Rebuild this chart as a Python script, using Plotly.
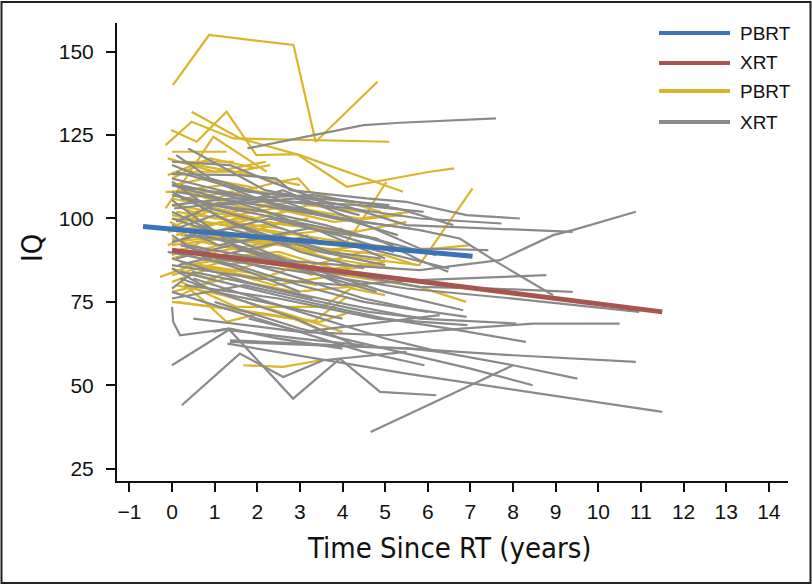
import plotly.graph_objects as go

# ---------------- data ----------------
# Individual PBRT patient trajectories (time since RT in years, IQ)
pbrt_times = [
    [0.02, 0.87, 2.85, 3.37, 4.82],
    [-0.15, 0.46, 1.44, 5.1],
    [0.46, 1.6, 3.0, 5.42],
    [-0.02, 0.58, 1.28, 1.98, 2.93, 4.1, 6.05, 6.62],
    [0.0, 1.4, 2.9, 3.9, 4.33, 5.03],
    [-0.15, 0.97, 2.22],
    [0.0, 1.28],
    [0.03, 1.45],
    [-0.1, 0.9, 2.0],
    [0.2, 2.5, 4.5, 5.8, 7.05],
    [0.0, 2.0, 4.0, 5.8, 7.0],
    [0.3, 2.5, 4.5, 5.8, 6.9],
    [1.67, 2.6, 3.5],
    [0.0, 1.36, 3.47, 4.2],
    [0.1, 1.2, 2.8, 4.0],
    [-0.28, 0.5, 1.5],
    [0.0, 1.2, 2.5],
    [0.0, 0.8, 2.2, 3.6],
    [0.1, 1.0, 2.0, 3.2, 4.5],
    [-0.1, 1.2, 2.6, 4.0],
    [0.0, 1.5, 3.0],
    [0.2, 1.0, 2.5, 3.8, 5.0],
    [0.0, 1.1, 2.3],
    [0.0, 0.9, 2.1, 3.5],
    [0.1, 1.3, 2.7, 4.3, 5.5],
    [0.0, 1.6, 3.2],
    [0.3, 1.4, 2.9, 4.1],
    [-0.05, 0.7, 1.9, 3.1],
    [0.0, 1.0, 2.4, 3.7, 5.2],
    [0.2, 1.7, 3.4],
    [0.0, 1.3, 2.9, 4.6],
    [0.0, 0.8, 2.0],
    [1.0, 2.5, 2.96, 3.24, 4.9],
    [0.0, 1.0, 2.4, 3.8, 5.4],
    [0.1, 1.2, 2.6],
    [0.0, 0.7, 1.8, 3.2],
    [-0.1, 0.8, 2.0, 3.3, 4.6],
    [0.0, 1.5, 3.0, 4.5],
    [0.2, 1.1, 2.5],
    [0.0, 1.4, 2.8, 4.0],
    [0.3, 1.9, 3.3],
    [0.0, 0.9, 2.1, 3.0, 4.3],
    [0.0, 1.2, 2.7, 4.3],
    [0.1, 1.5, 3.4],
    [0.0, 1.3, 2.5, 3.6, 4.8],
    [0.2, 1.5, 3.53, 4.2, 5.0],
    [0.11, 2.84, 3.94],
    [0.3, 0.73, 1.28, 2.06, 3.31, 4.1],
    [-0.15, 1.43],
    [0.4, 1.5, 2.3],
    [0.0, 1.8, 3.6, 5.0, 5.74],
    [0.1, 1.6, 3.0, 4.4, 5.58],
    [0.0, 0.6, 1.9, 3.0],
    [-0.1, 1.0, 2.2],
    [0.2, 1.3, 2.4, 3.9],
]
pbrt_iq = [
    [140, 155, 152, 123, 141],
    [122, 129, 124, 123],
    [132, 124, 119, 108],
    [126.5, 123, 132, 119, 119.3, 109.5, 114, 115],
    [97, 94, 92, 90, 97, 111],
    [103, 124.5, 114],
    [120, 120],
    [117, 117],
    [113, 118, 115],
    [95, 92, 88, 86, 109],
    [100, 97, 93, 90.5, 92],
    [90, 86, 82, 79.5, 75],
    [56, 55.5, 57.5],
    [75, 73, 69, 72],
    [80, 77, 71, 66],
    [82.5, 86, 84],
    [108, 110, 107],
    [111, 106, 104, 101],
    [98, 103, 100, 104, 102],
    [96, 99, 95, 97],
    [93, 95, 91],
    [91, 88, 90, 85, 87],
    [88, 92, 89],
    [85, 82, 87, 84],
    [104, 101, 98, 96, 99],
    [101, 97, 100],
    [106, 108, 102, 100],
    [99, 94, 96, 92],
    [94, 90, 93, 88, 85],
    [87, 84, 80],
    [78, 82, 78, 80],
    [110, 112, 109],
    [106, 111, 112, 108, 102],
    [104, 100, 103, 99, 101],
    [96, 99, 97],
    [89, 93, 90, 95],
    [92, 97, 94, 90, 92],
    [83, 88, 85, 90],
    [100, 105, 101],
    [106, 102, 105, 103],
    [86, 89, 83],
    [81, 85, 82, 86, 83],
    [98, 94, 99, 95],
    [95, 100, 97],
    [90, 86, 89, 84, 86],
    [81, 73.5, 73.5, 79, 77],
    [75, 70, 64],
    [80, 75.5, 69, 71.5, 69, 76.5],
    [108, 108],
    [114, 114, 116],
    [92, 95, 91, 89, 86],
    [102, 99, 103, 100, 102],
    [112, 116, 113, 110],
    [118, 114, 117],
    [77, 84, 80, 83],
]

# Individual XRT patient trajectories
xrt_times = [
    [1.77, 4.49, 5.35, 7.6],
    [0.1, 2.0, 4.0, 5.81, 7.69, 8.94, 9.4, 10.88],
    [0.0, 2.0, 4.2, 5.81, 7.73],
    [0.0, 1.59, 2.45, 2.77, 4.56, 5.49, 6.91, 8.16],
    [0.38, 2.18, 4.0, 5.5, 9.4],
    [0.0, 1.36, 2.22, 3.8],
    [0.0, 2.06, 4.0, 5.3],
    [0.0, 1.5, 3.0, 4.5],
    [0.0, 1.55, 3.2, 4.8],
    [0.05, 1.83, 2.6, 4.2, 5.81, 7.42],
    [0.1, 2.0, 4.0, 5.81, 6.75, 7.61, 8.94],
    [0.2, 2.5, 4.8, 5.81, 6.48],
    [0.0, 2.0, 4.0, 5.81, 8.78],
    [0.3, 3.0, 5.81, 7.5, 9.4],
    [1.0, 3.5, 5.5, 8.0, 10.96],
    [0.5, 3.0, 5.0, 6.8, 8.47, 10.5],
    [0.0, 2.0, 4.2, 5.81, 8.08],
    [0.2, 2.8, 5.0, 6.5, 8.3],
    [1.36, 3.5, 5.58, 8.0, 10.88],
    [0.5, 3.0, 5.0, 6.28, 8.0, 9.51],
    [1.0, 3.0, 5.0, 7.0, 8.46],
    [4.66, 8.0],
    [0.97, 1.32, 2.84, 3.94, 4.88, 6.2],
    [1.3, 5.5, 11.5],
    [0.0, 2.5, 4.5, 5.92],
    [0.3, 2.5, 4.8, 6.93],
    [0.5, 3.0, 5.0, 6.83],
    [0.23, 1.59, 2.61, 3.55, 5.5],
    [0.0, 1.32, 3.0, 4.5],
    [0.0, 0.03, 0.19, 1.36, 2.5, 4.0],
    [1.36, 5.58, 6.28],
    [1.8, 3.07, 6.28],
    [0.2, 2.5, 4.5, 5.81, 6.91],
    [0.0, 1.2, 2.6, 4.0],
    [0.1, 1.0, 2.0, 3.5, 5.0],
    [0.0, 0.8, 1.8, 3.0],
    [-0.1, 1.5, 3.0, 4.5, 6.0],
    [0.0, 1.0, 2.5, 4.0],
    [0.2, 1.5, 2.9, 4.3],
    [0.0, 2.0, 3.5, 5.0],
    [0.1, 1.0, 2.2, 3.6, 5.2],
    [0.0, 1.3, 2.8],
    [0.0, 0.9, 2.1, 3.5],
    [0.0, 1.0, 2.3, 3.9, 5.2],
    [0.0, 1.7, 3.1, 4.6, 6.0],
    [0.1, 1.4, 2.8, 4.1],
    [0.0, 0.5, 2.0, 3.3],
    [0.3, 1.6, 3.2, 4.7, 6.2],
    [0.0, 1.1, 2.9, 4.4],
    [0.15, 1.5, 3.0, 4.6, 6.5],
    [0.0, 1.2, 2.4, 3.8, 5.6],
    [0.1, 0.9, 2.2, 3.3],
    [0.0, 1.4, 2.9, 4.4, 5.9],
    [0.1, 1.8, 3.4, 5.1],
    [0.0, 1.1, 2.5, 3.7, 4.9],
    [0.2, 1.6, 3.3, 5.3, 6.6],
]
xrt_iq = [
    [121, 128, 128.7, 130],
    [90, 88, 86, 84.5, 87.5, 95, 96.5, 102],
    [110, 106, 103, 100, 98.5],
    [113.3, 113, 112, 108.5, 106, 105, 101, 100],
    [121, 108.5, 104, 98, 96],
    [117, 116, 111.5, 104],
    [112, 105.5, 100, 95],
    [108, 98, 90, 85],
    [105.5, 91, 84, 78],
    [103, 105.5, 108.5, 100, 91, 90.5],
    [108, 104, 100, 96.5, 94, 87, 77],
    [106, 100, 94, 87.5, 84],
    [86, 82, 80, 81.5, 83],
    [92, 86, 79.5, 79, 78],
    [88, 83, 79, 76, 72],
    [70, 66, 65, 67, 68.5, 68.5],
    [88, 80, 74, 70, 68.5],
    [84, 76, 70, 67, 63],
    [63, 62, 61, 59, 57],
    [82, 72, 64, 60, 56, 52],
    [75, 67, 61, 55, 50],
    [36, 56],
    [66, 67, 46, 58, 48, 47],
    [62.5, 53.5, 42],
    [78, 68, 60, 56],
    [80, 76, 70, 68],
    [96, 86, 78, 72.5],
    [44, 59.5, 52.5, 57.5, 60],
    [56, 66.5, 64, 62],
    [73.5, 69, 65, 67, 64, 61],
    [63.5, 61, 60],
    [70, 66, 71],
    [92, 84, 76, 72.5, 70.5],
    [100, 95, 88, 80],
    [97, 101, 96, 90, 86],
    [95, 88, 84, 78],
    [90, 86, 80, 75, 72],
    [85, 78, 74, 70],
    [82, 76, 70, 62],
    [110, 103, 96, 88],
    [99, 104, 102, 98, 92],
    [93, 97, 92],
    [111, 103, 99, 93],
    [102, 96, 100, 95, 90],
    [76, 80, 76, 72, 70],
    [88, 92, 86, 83],
    [79, 84, 80, 76],
    [95, 93, 97, 94, 89],
    [107, 104, 106, 101],
    [86, 90, 94, 91, 85],
    [116, 110, 104, 100, 97],
    [119, 112, 107, 102],
    [104, 106, 105, 104, 102],
    [114, 108, 106, 104],
    [98, 92, 95, 90, 88],
    [110, 106, 107, 103, 98],
]

# Group mean fits
fit_pbrt_x = [-0.68, 7.05]
fit_pbrt_y = [97.6, 88.7]
fit_xrt_x = [0.0, 11.5]
fit_xrt_y = [90.5, 72.0]

x_ticks = list(range(-1, 15))
y_ticks = [25, 50, 75, 100, 125, 150]
legend_labels = ["PBRT", "XRT", "PBRT", "XRT"]

# ---------------- colours ----------------
C_YEL = "#D9B52B"
C_GRY = "#8A8A8A"
C_BLU = "#3A74B7"
C_RED = "#A8554F"


def join(series_x, series_y):
    xs, ys = [], []
    for sx, sy in zip(series_x, series_y):
        xs += list(sx) + [None]
        ys += list(sy) + [None]
    return xs, ys


fig = go.Figure()
px_, py_ = join(pbrt_times, pbrt_iq)
xx_, xy_ = join(xrt_times, xrt_iq)
fig.add_trace(go.Scatter(x=px_, y=py_, mode="lines", line=dict(color=C_YEL, width=2.2),
                         name="PBRT", showlegend=False, hoverinfo="skip"))
fig.add_trace(go.Scatter(x=xx_, y=xy_, mode="lines", line=dict(color=C_GRY, width=2.2),
                         name="XRT", showlegend=False, hoverinfo="skip"))
fig.add_trace(go.Scatter(x=fit_pbrt_x, y=fit_pbrt_y, mode="lines",
                         line=dict(color=C_BLU, width=5), name="PBRT", showlegend=False))
fig.add_trace(go.Scatter(x=fit_xrt_x, y=fit_xrt_y, mode="lines",
                         line=dict(color=C_RED, width=5), name="XRT", showlegend=False))

W, H = 812, 585
L, R, T, B = 117, 24, 23, 104
PW, PH = W - L - R, H - T - B


def pxx(px):
    return (px - L) / PW


def pyy(py):
    return (H - B - py) / PH


shapes = [
    dict(type="rect", xref="paper", yref="paper",
         x0=pxx(1.5), x1=pxx(810.5), y0=pyy(583), y1=pyy(2),
         line=dict(color="#222", width=2), layer="below"),
]
annotations = []
leg_colors = [C_BLU, C_RED, C_YEL, C_GRY]
leg_rows = [33, 63, 91, 122]
for lab, col, row in zip(legend_labels, leg_colors, leg_rows):
    shapes.append(dict(type="line", xref="paper", yref="paper",
                       x0=pxx(659), x1=pxx(730), y0=pyy(row), y1=pyy(row),
                       line=dict(color=col, width=4)))
    annotations.append(dict(xref="paper", yref="paper", x=pxx(738), y=pyy(row),
                            xanchor="left", yanchor="middle", text=lab, showarrow=False,
                            font=dict(size=19, color="#111",
                                      family="Liberation Sans, Arial, sans-serif")))

title_font = dict(size=29, color="#111",
                  family="Liberation Sans Narrow, DejaVu Sans Condensed, Arial Narrow, sans-serif")
annotations.append(dict(xref="paper", yref="paper", x=pxx(449), y=pyy(548),
                        xanchor="center", yanchor="middle", text="Time Since RT (years)",
                        showarrow=False, font=title_font))
annotations.append(dict(xref="paper", yref="paper", x=pxx(32), y=pyy(248),
                        xanchor="center", yanchor="middle", text="IQ", textangle=-90,
                        showarrow=False, font=title_font))

tick_font = dict(size=21, color="#111", family="Liberation Sans, Arial, sans-serif")
fig.update_layout(
    width=W, height=H,
    margin=dict(l=L, r=R, t=T, b=B, pad=0),
    paper_bgcolor="white", plot_bgcolor="white",
    showlegend=False,
    shapes=shapes, annotations=annotations,
    xaxis=dict(range=[-1.29, 14.45], tickmode="array", tickvals=x_ticks,
               showgrid=False, zeroline=False, showline=True, linecolor="#111",
               linewidth=2, ticks="outside", ticklen=9, tickwidth=2, tickcolor="#111",
               tickfont=tick_font, ticklabelstandoff=2),
    yaxis=dict(range=[21.3, 158.6], tickmode="array", tickvals=y_ticks,
               showgrid=False, zeroline=False, showline=True, linecolor="#111",
               linewidth=2, ticks="outside", ticklen=9, tickwidth=2, tickcolor="#111",
               tickfont=tick_font, ticklabelstandoff=8),
)

fig.write_html(
    "out.html",
    config={"displayModeBar": False, "staticPlot": True},
    post_script="document.body.style.margin='0';document.body.style.padding='0';"
                "document.body.style.overflow='hidden';",
)
